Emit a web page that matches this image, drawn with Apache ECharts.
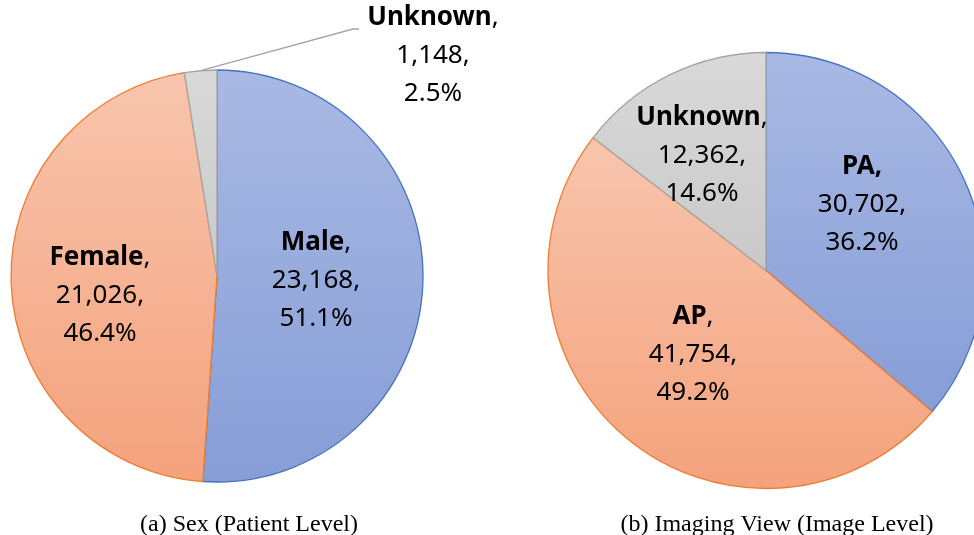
<!DOCTYPE html>
<html><head><meta charset="utf-8">
<script src="https://cdn.jsdelivr.net/npm/echarts@6/dist/echarts.min.js"></script>
<style>html,body{margin:0;padding:0;background:#fff}#c{width:974px;height:535px}</style>
</head><body><div id="c"></div>
<script>
// ---- data ----
const sexCategories = ['Male', 'Female', 'Unknown'];
const sexValues = [23168, 21026, 1148];
const viewCategories = ['PA', 'AP', 'Unknown'];
const viewValues = [30702, 41754, 12362];
const captions = ['(a) Sex (Patient Level)', '(b) Imaging View (Image Level)'];

// ---- styling / layout ----
const fills = [['#a9b9e4', '#869dd6'], ['#f8c5ae', '#f4a27c'], ['#d9d9d9', '#c9c9c9']];
const borders = ['#4472c4', '#ed7d31', '#a5a5a5'];
const pieCenters = [[217, 276], [766, 270.5]];
const pieRadii = [206, 218];
const captionX = [244, 772];
const labelAnchors = [
  [[316, 281], [100, 296], [433, 56]],
  [[862, 205], [693, 355], [702, 156]]
];
const leaderBend = [[353, 29], [359, 29]];
const boldCommaNames = ['PA'];

const FONT = "'Noto Sans', 'Open Sans', sans-serif";
const rich = {
  b: { fontFamily: FONT, fontWeight: 'bold', fontSize: 26, lineHeight: 38, color: '#000' },
  r: { fontFamily: FONT, fontSize: 26, lineHeight: 38, color: '#000' }
};

function fmt(p) {
  const comma = boldCommaNames.indexOf(p.name) >= 0 ? '{b|,}' : '{r|,}';
  return '{b|' + p.name + '}' + comma + '\n{r|' + p.value.toLocaleString('en-US') + ',}\n{r|' + p.percent + '%}';
}

function makeSeries(si, cats, vals, outsideIdx) {
  return {
    type: 'pie',
    center: pieCenters[si],
    radius: pieRadii[si],
    startAngle: 90,
    clockwise: true,
    avoidLabelOverlap: false,
    percentPrecision: 1,
    silent: true,
    animation: false,
    emphasis: { disabled: true },
    label: { show: true, position: 'inside', formatter: fmt, rich: rich, align: 'center' },
    labelLine: { show: false },
    labelLayout: function (p) {
      const a = labelAnchors[si][p.dataIndex];
      const out = { x: a[0], y: a[1], align: 'center', verticalAlign: 'middle' };
      if (p.dataIndex === outsideIdx && p.labelLinePoints) {
        out.labelLinePoints = [p.labelLinePoints[0], leaderBend[0], leaderBend[1]];
      }
      return out;
    },
    data: cats.map(function (n, i) {
      const d = {
        name: n, value: vals[i],
        itemStyle: {
          color: { type: 'linear', x: 0, y: 0, x2: 0, y2: 1,
            colorStops: [{ offset: 0, color: fills[i][0] }, { offset: 1, color: fills[i][1] }] },
          borderColor: borders[i], borderWidth: 1.3
        }
      };
      if (i === outsideIdx) {
        d.label = { position: 'outside' };
        d.labelLine = { show: true, length: 20, length2: 10, smooth: false, lineStyle: { color: '#a5a5a5', width: 1.3 } };
      }
      return d;
    })
  };
}

const chart = echarts.init(document.getElementById('c'), null, { renderer: 'canvas' });
chart.setOption({
  backgroundColor: '#fff',
  animation: false,
  title: captions.map(function (t, i) {
    return { text: t, left: captionX[i], top: 508, textAlign: 'center',
      textStyle: { fontFamily: "'Liberation Serif', 'Times New Roman', serif", fontWeight: 'normal', fontSize: 24, color: '#000' } };
  }),
  series: [
    makeSeries(0, sexCategories, sexValues, 2),
    makeSeries(1, viewCategories, viewValues, -1)
  ]
});
</script>
</body></html>
